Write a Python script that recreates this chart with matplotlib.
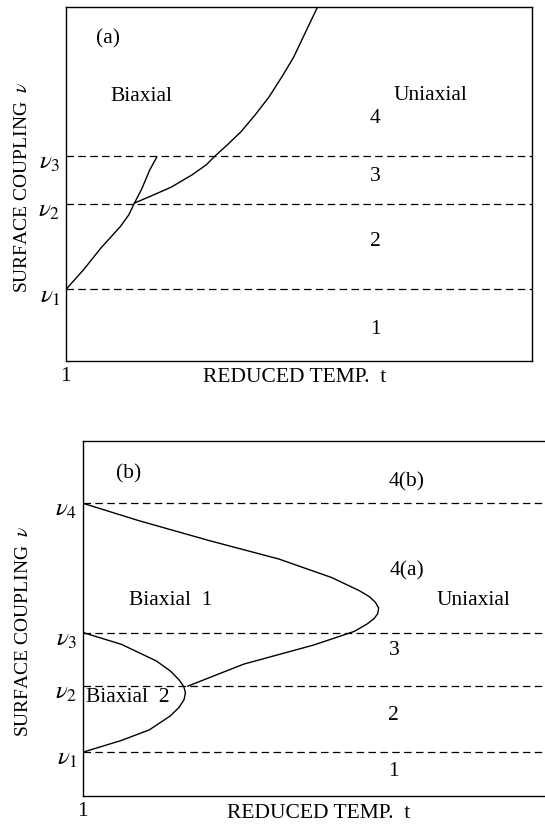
import matplotlib
matplotlib.use("Agg")
import matplotlib.pyplot as plt

plt.rcParams['font.family'] = ['Liberation Serif', 'DejaVu Serif']
plt.rcParams['mathtext.fontset'] = 'stix'

# --- panel (a) ---
a_levels = [0.202, 0.444, 0.579]          # nu1, nu2, nu3
a_level_names = [r'$\nu_1$', r'$\nu_2$', r'$\nu_3$']
# steep branch: nu1 -> nu3
a_curve1_x = [0.0, 0.038, 0.075, 0.117, 0.135, 0.147, 0.162, 0.180, 0.195]
a_curve1_y = [0.202, 0.258, 0.319, 0.380, 0.413, 0.446, 0.484, 0.540, 0.576]
# biaxial/uniaxial boundary from nu2 upward
a_curve2_x = [0.147, 0.188, 0.226, 0.271, 0.301, 0.320, 0.346, 0.376, 0.406,
              0.436, 0.466, 0.489, 0.511, 0.540]
a_curve2_y = [0.446, 0.469, 0.491, 0.526, 0.554, 0.579, 0.610, 0.648, 0.695,
              0.746, 0.808, 0.859, 0.920, 1.0]
a_region_labels = ['4', '3', '2', '1']
a_region_y = [0.685, 0.521, 0.338, 0.089]

# --- panel (b) ---
b_levels = [0.124, 0.310, 0.461, 0.825]   # nu1 .. nu4
b_level_names = [r'$\nu_1$', r'$\nu_2$', r'$\nu_3$', r'$\nu_4$']
b_outer_x = [0.0, 0.121, 0.273, 0.424, 0.538, 0.598, 0.620, 0.633, 0.640,
             0.638, 0.630, 0.615, 0.587, 0.500, 0.348, 0.227]
b_outer_y = [0.825, 0.776, 0.720, 0.668, 0.616, 0.579, 0.562, 0.546, 0.530,
             0.514, 0.500, 0.485, 0.464, 0.426, 0.372, 0.310]
b_inner_x = [0.0, 0.083, 0.159, 0.190, 0.208, 0.218, 0.222, 0.219, 0.208,
             0.189, 0.144, 0.083, 0.0]
b_inner_y = [0.461, 0.428, 0.381, 0.352, 0.328, 0.310, 0.292, 0.272, 0.250,
             0.226, 0.187, 0.157, 0.124]
b_region_labels = ['4(b)', '4(a)', '3', '2', '1']
b_region_y = [0.884, 0.635, 0.409, 0.226, 0.071]

fig = plt.figure(figsize=(5.45, 8.26), dpi=100)
ax1 = fig.add_axes([0.121, 0.563, 0.855, 0.4286])
ax2 = fig.add_axes([0.152, 0.036, 0.848, 0.430])

fs = 15.5
dash = (0, (6, 3.5))


def setup(ax, xlab_x, ylab_pos):
    ax.set_xlim(0, 1)
    ax.set_ylim(0, 1)
    ax.set_xticks([0])
    ax.set_xticklabels(['1'], fontsize=fs)
    ax.set_yticks([])
    ax.tick_params(axis='x', length=0, pad=4)
    for s in ax.spines.values():
        s.set_linewidth(1.0)
    ax.text(xlab_x, -0.048, 'REDUCED TEMP.  t', fontsize=fs, ha='center',
            va='center', transform=ax.transAxes)
    ax.set_ylabel(r'SURFACE COUPLING  $\nu$', fontsize=14, va='center')
    ax.yaxis.set_label_coords(*ylab_pos)


setup(ax1, 0.49, (-0.094, 0.49))
for y, nm in zip(a_levels, a_level_names):
    ax1.axhline(y, color='black', lw=0.9, ls=dash)
    ax1.text(-0.012, y - 0.02, nm, fontsize=18, ha='right', va='center',
             transform=ax1.transAxes)
ax1.plot(a_curve1_x, a_curve1_y, color='black', lw=1.0)
ax1.plot(a_curve2_x, a_curve2_y, color='black', lw=1.0)
ax1.text(0.090, 0.911, '(a)', fontsize=fs, ha='center', va='center')
ax1.text(0.162, 0.746, 'Biaxial', fontsize=fs, ha='center', va='center')
ax1.text(0.782, 0.751, 'Uniaxial', fontsize=fs, ha='center', va='center')
for lab, y in zip(a_region_labels, a_region_y):
    ax1.text(0.664, y, lab, fontsize=fs, ha='center', va='center')

setup(ax2, 0.51, (-0.128, 0.466))
ax2.spines['right'].set_visible(False)
for y, nm in zip(b_levels, b_level_names):
    ax2.axhline(y, color='black', lw=0.9, ls=dash)
    ax2.text(-0.012, y - 0.02, nm, fontsize=18, ha='right', va='center',
             transform=ax2.transAxes)
ax2.plot(b_outer_x, b_outer_y, color='black', lw=1.0)
ax2.plot(b_inner_x, b_inner_y, color='black', lw=1.0)
ax2.text(0.098, 0.908, '(b)', fontsize=fs, ha='center', va='center')
ax2.text(0.189, 0.550, 'Biaxial  1', fontsize=fs, ha='center', va='center')
ax2.text(0.098, 0.277, 'Biaxial  2', fontsize=fs, ha='center', va='center')
ax2.text(0.845, 0.550, 'Uniaxial', fontsize=fs, ha='center', va='center')
for lab, y in zip(b_region_labels, b_region_y):
    ax2.text(0.701 if '(' in lab else 0.673, y, lab, fontsize=fs,
             ha='center', va='center')

fig.savefig('out.png', dpi=100)
